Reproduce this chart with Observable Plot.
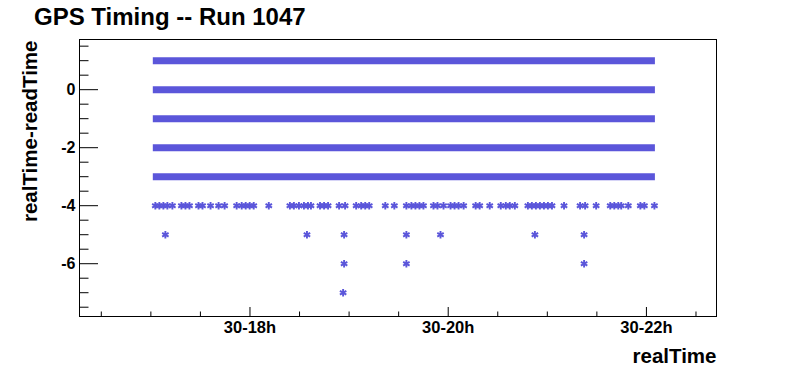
<!DOCTYPE html>
<html><head><meta charset="utf-8">
<script src="https://cdn.jsdelivr.net/npm/d3@7"></script>
<script src="https://cdn.jsdelivr.net/npm/@observablehq/plot@0.6"></script>
<style>
body{margin:0;background:#fff;}
#wrap{position:relative;width:796px;height:372px;overflow:hidden;}
#title{position:absolute;left:34px;top:5px;font:bold 24px/24px "Liberation Sans",Arial,sans-serif;color:#000;white-space:nowrap;}
</style></head><body>
<div id="wrap"><div id="title">GPS Timing -- Run 1047</div></div>
<script>
// ---- data (times on day 30, HH:MM:SS) ----
const titleText = "GPS Timing -- Run 1047";
const xLabel = "realTime";
const yLabel = "realTime-readTime";
const xDomain = ["16:16:48", "22:42:25"];
const yDomain = [-7.82, 1.73];
const xMajorTicks = ["18:00:00", "20:00:00", "22:00:00"];
const xMinorTicks = ["16:30:00","17:00:00","17:30:00","18:30:00","19:00:00","19:30:00","20:30:00","21:00:00","21:30:00","22:30:00"];
const yMajorTicks = [-6, -4, -2, 0];
const yMinorTicks = [-7.5,-7,-6.5,-5.5,-5,-4.5,-3.5,-3,-2.5,-1.5,-1,-0.5,0.5,1,1.5];

// dense rows: continuous samples between start and end
const bandLevels = [1, 0, -1, -2, -3];
const bandStart = "17:01:29";
const bandEnd = "22:05:26";

// sparse offsets
const level4Times = ["17:02:42","17:05:08","17:07:34","17:10:00","17:13:02","17:18:30","17:20:56","17:23:22","17:28:50","17:31:16","17:36:08","17:41:00","17:44:39","17:51:56","17:54:59","17:57:25","17:59:50","18:02:16","18:11:23","18:24:10","18:26:35","18:29:38","18:32:40","18:35:06","18:36:55","18:42:24","18:44:50","18:47:16","18:53:57","18:57:35","19:04:17","19:07:19","19:09:45","19:12:11","19:21:55","19:27:23","19:34:41","19:37:43","19:40:09","19:42:35","19:45:01","19:51:05","19:53:31","19:57:10","20:01:25","20:03:51","20:06:17","20:09:20","20:16:37","20:19:03","20:25:08","20:31:49","20:34:52","20:37:17","20:40:20","20:48:14","20:50:40","20:53:06","20:55:32","20:57:58","21:00:23","21:02:49","21:10:07","21:19:50","21:22:53","21:29:34","21:38:05","21:40:31","21:42:56","21:44:46","21:49:01","21:56:19","21:58:45","22:04:50"];
const level5Times = ["17:08:47","18:34:30","18:56:59","19:34:41","19:55:20","20:52:29","21:22:16"];
const level6Times = ["18:56:59","19:34:41","21:22:16"];
const level7Times = ["18:56:23"];

const markerColor = "#5b56da";

// ---- build ----
const T = s => { const [h,m,sec] = s.split(":").map(Number); return new Date(Date.UTC(2010, 5, 30, h, m, sec)); };
const bands = bandLevels.map(v => ({v, t1: T(bandStart), t2: T(bandEnd)}));
const points = [
  ...level4Times.map(t => ({t: T(t), v: -4})),
  ...level5Times.map(t => ({t: T(t), v: -5})),
  ...level6Times.map(t => ({t: T(t), v: -6})),
  ...level7Times.map(t => ({t: T(t), v: -7}))
];

const W = 796, H = 372, mL = 79, mR = 80, mT = 39, mB = 56;
const fw = W - mL - mR, fh = H - mT - mB;
const font = "Liberation Sans, Arial, sans-serif";
const fmtX = d => `${d.getUTCDate()}-${d.getUTCHours()}h`;
const fmtY = d => d < 0 ? "-" + Math.abs(d) : String(d);

const chart = Plot.plot({
  width: W, height: H,
  marginLeft: mL, marginRight: mR, marginTop: mT, marginBottom: mB,
  style: {fontFamily: font, background: "white", color: "black"},
  x: {type: "utc", domain: xDomain.map(T)},
  y: {domain: yDomain},
  marks: [
    Plot.ruleY(bands, {y: "v", x1: "t1", x2: "t2", stroke: markerColor, strokeWidth: 7}),
    Plot.dot(points, {x: "t", y: "v", symbol: "asterisk", r: 3.5, stroke: markerColor, strokeWidth: 1.9}),
    Plot.tickY(yMajorTicks, {y: d => d, insetRight: fw - 19, stroke: "black"}),
    Plot.tickY(yMinorTicks, {y: d => d, insetRight: fw - 9.5, stroke: "black"}),
    Plot.tickX(xMajorTicks.map(T), {x: d => d, insetTop: fh - 9, stroke: "black"}),
    Plot.tickX(xMinorTicks.map(T), {x: d => d, insetTop: fh - 4.5, stroke: "black"}),
    Plot.axisY({ticks: yMajorTicks, tickSize: 0, tickPadding: 4, tickFormat: fmtY, fontSize: 16, fontWeight: "bold", label: null}),
    Plot.axisX({ticks: xMajorTicks.map(T), tickSize: 0, tickPadding: 5, tickFormat: fmtX, fontSize: 16.5, fontWeight: "bold", label: null}),
    Plot.text([yLabel], {frameAnchor: "top-left", text: d => d, rotate: -90, textAnchor: "end", lineAnchor: "bottom", dx: -43, dy: 1, fontSize: 20.5, fontWeight: "bold"}),
    Plot.text([xLabel], {frameAnchor: "bottom-right", text: d => d, textAnchor: "end", lineAnchor: "bottom", dy: 46, fontSize: 20.5, fontWeight: "bold"}),
    Plot.frame({stroke: "black", strokeWidth: 1})
  ]
});
document.getElementById("title").textContent = titleText;
document.getElementById("wrap").prepend(chart);
chart.style.position = "absolute"; chart.style.left = "0"; chart.style.top = "0";
</script>
</body></html>
